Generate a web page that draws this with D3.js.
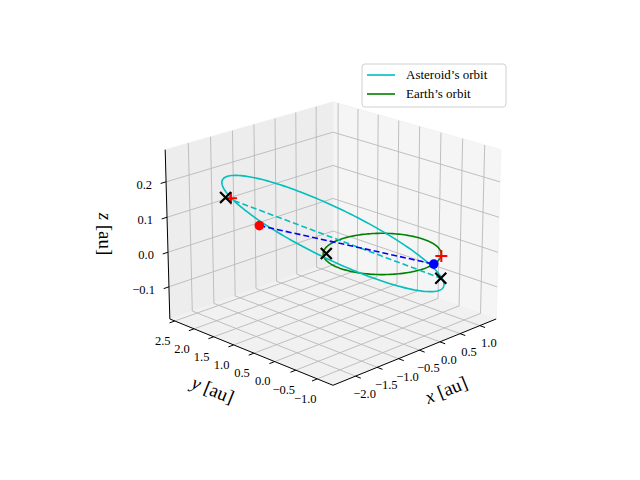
<!DOCTYPE html>
<html>
<head>
<meta charset="utf-8">
<script src="https://cdn.jsdelivr.net/npm/d3@7"></script>
<style>
  body { margin: 0; background: #fff; }
  text { font-family: 'Liberation Serif', 'DejaVu Serif', serif; fill: #000; }
</style>
</head>
<body>
<svg width="640" height="480"></svg>
<script>
// axis limits and ticks
const xLim = [-2.51, 1.42];
const yLim = [-1.36, 2.63];
const zLim = [-0.194, 0.29];
const xTicks = [-2.0, -1.5, -1.0, -0.5, 0.0, 0.5, 1.0];
const yTicks = [-1.0, -0.5, 0.0, 0.5, 1.0, 1.5, 2.0, 2.5];
const zTicks = [-0.1, 0.0, 0.1, 0.2];

// Earth orbit: circle of radius 1 in the ecliptic
const earthRadius = 1.0;
// asteroid orbit: centre and two conjugate semi-axis vectors [au]
const asteroidCentre = [-0.46, 0.73, 0.048];
const asteroidMajor = [1.0, -1.66, -0.127];
const asteroidMinor = [0.61, 0.37, 0.026];

// markers [x, y, z]
const blackCrosses = [[-1.46, 2.32, 0.127], [0.54, -0.86, -0.058], [-0.67, 0.67, 0.0]];
const redPluses = [[-1.40, 2.25, 0.125], [0.61, -0.80, 0.0]];
const asteroidPos = [-2.08, 0.80, 0.132];
const earthPos = [0.24, -0.97, 0.0];
const apsideLine = [[-1.46, 2.32, 0.127], [0.54, -0.86, -0.058]];
const sightLine = [asteroidPos, earthPos];

const legendItems = [
  { label: 'Asteroid\u2019s orbit', color: '#00bfbf' },
  { label: 'Earth\u2019s orbit', color: 'green' }
];

// ---- projection (elev 20, azim pointing at the (xmin, ymin) corner) ----
const zh = 0.77;
const sx = d3.scaleLinear().domain(xLim).range([-1, 1]);
const sy = d3.scaleLinear().domain(yLim).range([-1, 1]);
const sz = d3.scaleLinear().domain(zLim).range([-zh, zh]);
const el = 20 * Math.PI / 180, az = -135 * Math.PI / 180;
const eye = [Math.cos(el) * Math.cos(az), Math.cos(el) * Math.sin(az), Math.sin(el)];
const right = [-Math.sin(az), Math.cos(az), 0];
const up = [-Math.sin(el) * Math.cos(az), -Math.sin(el) * Math.sin(az), Math.cos(el)];
const S = 117, D = 18.7, cx = 333, cy = 235.5;
const dot = (a, b) => a[0] * b[0] + a[1] * b[1] + a[2] * b[2];

function projN(p) {
  const f = D / (D - dot(eye, p));
  return [cx + S * f * dot(right, p), cy - S * f * dot(up, p)];
}
const proj = d => projN([sx(d[0]), sy(d[1]), sz(d[2])]);

const svg = d3.select('svg');
const line = d3.line();

// panes
const panes = [
  { pts: [[1, -1, -zh], [1, 1, -zh], [1, 1, zh], [1, -1, zh]], fill: '#f5f5f5' },
  { pts: [[-1, 1, -zh], [1, 1, -zh], [1, 1, zh], [-1, 1, zh]], fill: '#ededed' },
  { pts: [[-1, -1, -zh], [1, -1, -zh], [1, 1, -zh], [-1, 1, -zh]], fill: '#f1f1f1' }
];
svg.append('g').selectAll('path').data(panes).enter().append('path')
  .attr('d', d => line(d.pts.map(projN)) + 'Z')
  .style('fill', d => d.fill)
  .style('stroke', '#f0f0f0')
  .style('stroke-width', 0.8);

// grid lines
const grid = [];
xTicks.forEach(t => {
  const X = sx(t);
  grid.push([[X, -1, -zh], [X, 1, -zh]], [[X, 1, -zh], [X, 1, zh]]);
});
yTicks.forEach(t => {
  const Y = sy(t);
  grid.push([[-1, Y, -zh], [1, Y, -zh]], [[1, Y, -zh], [1, Y, zh]]);
});
zTicks.forEach(t => {
  const Z = sz(t);
  grid.push([[-1, 1, Z], [1, 1, Z]], [[1, 1, Z], [1, -1, Z]]);
});
svg.append('g').selectAll('path').data(grid).enter().append('path')
  .attr('d', d => line(d.map(projN)))
  .style('fill', 'none')
  .style('stroke', '#b9b9b9')
  .style('stroke-width', 0.9);

// axis lines
const axisG = svg.append('g');
[[[-1, -1, -zh], [1, -1, -zh]], [[-1, -1, -zh], [-1, 1, -zh]], [[-1, 1, -zh], [-1, 1, zh]]]
  .forEach(seg => axisG.append('path').attr('d', line(seg.map(projN)))
    .style('stroke', '#000').style('stroke-width', 1));

function tickSet(ticks, toN, dir, fmt, off, anchor) {
  ticks.forEach(t => {
    const p = toN(t);
    const a = projN(p), b = projN([p[0] + dir[0], p[1] + dir[1], p[2] + dir[2]]);
    axisG.append('line').attr('x1', a[0]).attr('y1', a[1]).attr('x2', b[0]).attr('y2', b[1])
      .style('stroke', '#000').style('stroke-width', 1);
    axisG.append('text').text(fmt(t))
      .attr('x', a[0] + off[0]).attr('y', a[1] + off[1])
      .style('font-size', '12.5px').style('text-anchor', anchor)
      .attr('dominant-baseline', 'middle');
  });
}
const fmt1 = t => d3.format('.1f')(t).replace('-', '\u2212');
tickSet(xTicks, t => [sx(t), -1, -zh], [0, -0.06, 0], fmt1, [9, 19], 'middle');
tickSet(yTicks, t => [-1, sy(t), -zh], [-0.06, 0, 0], fmt1, [-12, 21], 'middle');
tickSet(zTicks, t => [-1, 1, sz(t)], [-0.06, 0, 0], fmt1, [-14, 4], 'end');

// axis labels
const labels = [
  { text: 'x [au]', x: 447, y: 392, r: -22 },
  { text: 'y [au]', x: 212, y: 392, r: 22 },
  { text: 'z [au]', x: 103, y: 234, r: 90 }
];
labels.forEach(l => {
  const t = svg.append('text')
    .attr('transform', `translate(${l.x},${l.y}) rotate(${l.r})`)
    .style('font-size', '19px').style('text-anchor', 'middle')
    .attr('dominant-baseline', 'middle');
  t.append('tspan').text(l.text[0]).style('font-style', 'italic');
  t.append('tspan').text(l.text.slice(1));
});

// orbits
const angles = d3.range(0, 361, 2).map(a => a * Math.PI / 180);
const earthOrbit = angles.map(a => [earthRadius * Math.cos(a), earthRadius * Math.sin(a), 0]);
const asteroidOrbit = angles.map(a => [0, 1, 2].map(k =>
  asteroidCentre[k] + Math.cos(a) * asteroidMajor[k] + Math.sin(a) * asteroidMinor[k]));

const dataG = svg.append('g');
dataG.append('path').attr('d', line(earthOrbit.map(proj)))
  .style('fill', 'none').style('stroke', legendItems[1].color).style('stroke-width', 1.6);
dataG.append('path').attr('d', line(asteroidOrbit.map(proj)))
  .style('fill', 'none').style('stroke', legendItems[0].color).style('stroke-width', 1.6);

dataG.append('path').attr('d', line(apsideLine.map(proj)))
  .style('fill', 'none').style('stroke', legendItems[0].color)
  .style('stroke-width', 1.6).style('stroke-dasharray', '6,3');
dataG.append('path').attr('d', line(sightLine.map(proj)))
  .style('fill', 'none').style('stroke', 'blue')
  .style('stroke-width', 1.6).style('stroke-dasharray', '6,3');

// point markers
[[asteroidPos, 'red'], [earthPos, 'blue']].forEach(([p, c]) => {
  const q = proj(p);
  dataG.append('circle').attr('cx', q[0]).attr('cy', q[1]).attr('r', 4.8).style('fill', c);
});
redPluses.forEach(p => {
  const q = proj(p), h = 6;
  dataG.append('path')
    .attr('d', `M${q[0] - h},${q[1]}H${q[0] + h}M${q[0]},${q[1] - h}V${q[1] + h}`)
    .style('stroke', 'red').style('stroke-width', 2);
});
blackCrosses.forEach(p => {
  const q = proj(p), h = 5.5;
  dataG.append('path')
    .attr('d', `M${q[0] - h},${q[1] - h}L${q[0] + h},${q[1] + h}M${q[0] - h},${q[1] + h}L${q[0] + h},${q[1] - h}`)
    .style('stroke', '#000').style('stroke-width', 2.2);
});

// legend
const leg = svg.append('g').attr('transform', 'translate(362,64)');
leg.append('rect').attr('width', 144).attr('height', 43).attr('rx', 3)
  .style('fill', 'rgba(255,255,255,0.8)').style('stroke', '#d0d0d0');
const legRows = leg.selectAll('g.row').data(legendItems).enter().append('g')
  .attr('class', 'row').attr('transform', (d, i) => `translate(0, ${11 + i * 19})`);
legRows.append('line').attr('x1', 5).attr('x2', 33)
  .style('stroke', d => d.color).style('stroke-width', 1.6);
legRows.append('text').text(d => d.label).attr('x', 44).attr('dy', 4)
  .style('font-size', '13px');
</script>
</body>
</html>
